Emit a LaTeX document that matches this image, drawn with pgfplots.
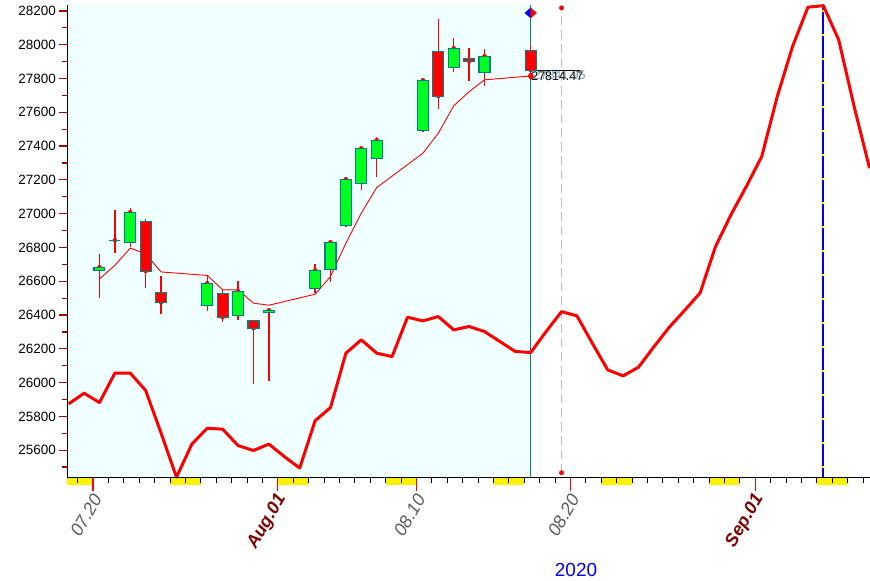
\documentclass[border=0pt]{standalone}
\usepackage{pgfplots}
\pgfplotsset{compat=1.18}
\usepackage{pgfplotstable}
\usepackage{fontspec}
\setmainfont{Liberation Sans}

\definecolor{bgcyan}{RGB}{240,255,255}
\definecolor{candlegreen}{RGB}{0,255,33}
\definecolor{candleedge}{RGB}{0,128,128}
\definecolor{tickred}{RGB}{170,0,0}
\definecolor{monthred}{RGB}{128,0,0}
\definecolor{labelgray}{RGB}{90,90,90}
\definecolor{navyline}{RGB}{0,0,225}
\definecolor{dashgray}{RGB}{190,190,190}

% daily candles, d = days after 07.20
\pgfplotstableread{
d  o      h      l      c
0  26665  26762  26503  26683
1  26843  27022  26766  26843
2  26831  27034  26800  27009
3  26955  26967  26557  26660
4  26535  26628  26403  26476
7  26458  26628  26426  26588
8  26529  26553  26361  26387
9  26399  26604  26373  26541
10 26370  26370  25994  26322
11 26417  26436  26010  26429
14 26555  26703  26529  26665
15 26671  26831  26598  26831
16 26932  27218  26922  27204
17 27180  27395  27141  27387
18 27328  27454  27219  27435
21 27494  27798  27486  27790
22 27961  28153  27622  27695
23 27867  28040  27841  27979
24 27920  27981  27788  27902
25 27837  27975  27758  27932
28 27967  27999  27849  27849
}\candles

% moving average (thin line)
\pgfplotstableread{
d  v
0  26614
1  26694
2  26796
3  26762
4  26655
7  26634
8  26549
9  26549
10 26470
11 26458
14 26523
15 26628
16 26825
17 27003
18 27154
21 27358
22 27476
23 27638
24 27722
25 27792
28 27815
}\avg

% thick line, one value per calendar day
\pgfplotstableread{
d  v
-2 25874
-1 25937
0  25882
1  26056
2  26056
3  25953
4  25701
5  25440
6  25636
7  25730
8  25724
9  25627
10 25598
11 25636
12 25562
13 25494
14 25774
15 25852
16 26174
17 26253
18 26174
19 26154
20 26387
21 26365
22 26391
23 26312
24 26332
25 26302
26 26243
27 26184
28 26178
29 26302
30 26420
31 26395
32 26233
33 26075
34 26040
35 26091
36 26212
37 26328
38 26428
39 26531
40 26805
41 26993
42 27161
43 27338
44 27691
45 27989
46 28222
47 28231
48 28028
49 27634
50 27269
}\trend

\pgfplotsset{chartframe/.style={
  at={(67.3bp,103.3bp)}, anchor=south west,
  width=802.7bp, height=472.7bp, scale only axis,
  xmin=-1.669, xmax=50.45, ymin=25437, ymax=28235}}

\begin{document}
\begin{tikzpicture}
\useasboundingbox (0,0) rectangle (870bp,581bp);

\begin{axis}[chartframe,
  axis x line*=bottom, axis y line*=left,
  axis line style={black, line width=1.2bp},
  axis on top, clip=false,
  tick align=outside,
  major tick length=8bp, minor tick length=5bp,
  xtick={0,12,21,31,43},
  xticklabels={{\color{labelgray}07.20},{\color{monthred}\bfseries Aug.01},
    {\color{labelgray}08.10},{\color{labelgray}08.20},{\color{monthred}\bfseries Sep.01}},
  minor xtick={-1,1,2,...,11,13,14,...,20,22,23,...,30,32,33,...,42,44,45,...,50},
  major x tick style={red, line width=1.2bp},
  minor x tick style={black, line width=1bp},
  ytick={25600,25800,...,28200},
  minor ytick={25500,25700,...,28100},
  major y tick style={tickred, line width=1.2bp},
  minor y tick style={tickred, line width=1.2bp},
  scaled y ticks=false,
  /pgf/number format/assume math mode=true,
  yticklabel style={font=\fontsize{13.5}{13.5}\selectfont, /pgf/number format/1000 sep={}},
  xticklabel style={font=\fontsize{18}{18}\selectfont\itshape,
    xshift=6bp, yshift=-7bp, rotate=60, anchor=east},
]
% shaded history region
\addplot[fill=bgcyan, draw=none, forget plot] coordinates
  {(-1.669,25437) (28.42,25437) (28.42,28235) (-1.669,28235)} -- cycle;

% weekend blocks under the date axis
\addplot[fill=yellow, draw=none] coordinates {(-1.669,25391) (0,25391) (0,25433) (-1.669,25433)} -- cycle;
\addplot[fill=yellow, draw=none] coordinates {(5,25391) (7,25391) (7,25433) (5,25433)} -- cycle;
\addplot[fill=yellow, draw=none] coordinates {(12,25391) (14,25391) (14,25433) (12,25433)} -- cycle;
\addplot[fill=yellow, draw=none] coordinates {(19,25391) (21,25391) (21,25433) (19,25433)} -- cycle;
\addplot[fill=yellow, draw=none] coordinates {(26,25391) (28,25391) (28,25433) (26,25433)} -- cycle;
\addplot[fill=yellow, draw=none] coordinates {(33,25391) (35,25391) (35,25433) (33,25433)} -- cycle;
\addplot[fill=yellow, draw=none] coordinates {(40,25391) (42,25391) (42,25433) (40,25433)} -- cycle;
\addplot[fill=yellow, draw=none] coordinates {(47,25391) (49,25391) (49,25433) (47,25433)} -- cycle;

% longer red date ticks
\addplot[red, line width=1.2bp, unbounded coords=jump] coordinates {
  (0,25437) (0,25360) (0,nan)
  (12,25437) (12,25360) (12,nan)
  (21,25437) (21,25360) (21,nan)
  (31,25437) (31,25360) (31,nan)
  (43,25437) (43,25360)};

% vertical markers
\addplot[candleedge, line width=1.4bp] coordinates {(28.42,25437) (28.42,28235)};
\addplot[dashgray, line width=1.3bp, dash pattern=on 9bp off 5bp] coordinates {(30.42,25466) (30.42,28218)};
\addplot[navyline, line width=1.8bp] coordinates {(47.42,25437) (47.42,28235)};
\addplot[yellow, line width=1.8bp, dash pattern=on 2bp off 22bp, dash phase=14bp] coordinates {(47.42,25437) (47.42,28235)};
\addplot[only marks, mark=*, mark size=2.2bp, red] coordinates {(30.42,28218) (30.42,25466)};

% lines
\addplot[red, line width=3bp, line join=round] table[x expr=\thisrow{d}+0.42, y=v] {\trend};
\addplot[red, line width=0.9bp] table[x expr=\thisrow{d}+0.42, y=v] {\avg};

% wicks
\addplot[red, only marks, mark=none,
  error bars/.cd, y dir=both, y explicit, error mark=none,
  error bar style={red, line width=1.3bp}]
  table[x expr=\thisrow{d}+0.42, y=c,
        y error plus expr=\thisrow{h}-\thisrow{c},
        y error minus expr=\thisrow{c}-\thisrow{l}] {\candles};

% markers on the last bar
\addplot[fill=blue, draw=none] coordinates {(28.02,28188) (28.42,28220) (28.42,28156)} -- cycle;
\addplot[fill=red, draw=none] coordinates {(28.82,28188) (28.42,28220) (28.42,28156)} -- cycle;
\addplot[only marks, mark=diamond*, mark size=3.8bp, red] coordinates {(28.42,27815)};
\addplot[black, line width=1bp] coordinates {(28.38,27845) (31.62,27845)};
\node[anchor=base west, inner sep=0pt, text=black, font=\fontsize{12.5}{12.5}\selectfont]
  at (axis cs:28.45,27786) {27814.47};
\node[anchor=base west, inner sep=0pt, text=black!55!cyan, opacity=0.7, font=\fontsize{12.5}{12.5}\selectfont]
  at (axis cs:28.6,27792) {27841.95};
\end{axis}

% candle bodies
\begin{axis}[chartframe, hide axis, ybar stacked, bar width=0.71]
\addplot[draw=none, fill=none] table[x expr=\thisrow{d}+0.42, y expr={min(\thisrow{o},\thisrow{c})}] {\candles};
\addplot[fill=candlegreen, draw=candleedge, line width=1.1bp] table[x expr=\thisrow{d}+0.42, y expr={max(\thisrow{c}-\thisrow{o},0)}] {\candles};
\addplot[fill=red, draw=candleedge, line width=1.1bp] table[x expr=\thisrow{d}+0.42, y expr={max(\thisrow{o}-\thisrow{c},0)}] {\candles};
\end{axis}

% the doji of 07.21 (open equals close)
\begin{axis}[chartframe, hide axis]
\addplot[candleedge, line width=1.3bp] coordinates {(1.065,26843) (1.775,26843)};
\end{axis}

\node[text=blue, font=\fontsize{19}{19}\selectfont] at (576bp,11bp) {2020};
\end{tikzpicture}
\end{document}
